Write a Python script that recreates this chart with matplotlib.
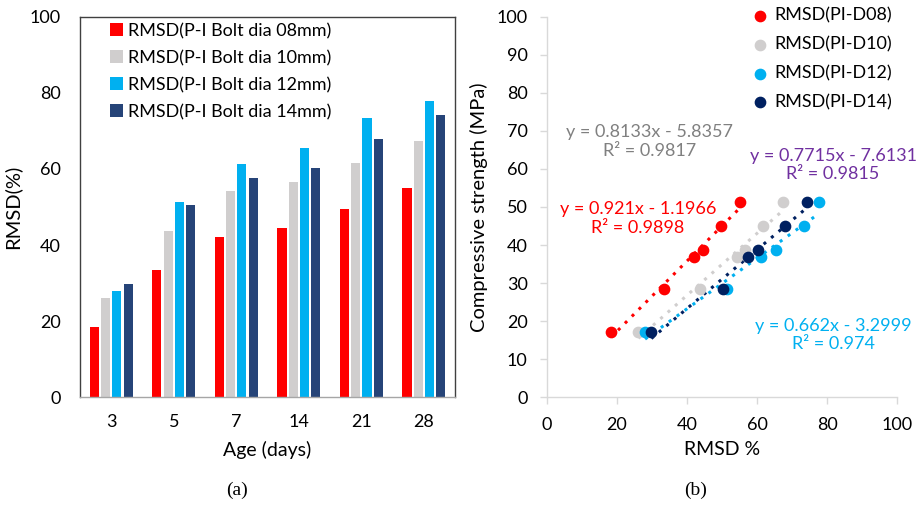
import numpy as np
import matplotlib
matplotlib.use('Agg')
import matplotlib.pyplot as plt

plt.rcParams['font.family'] = ['Lato', 'DejaVu Sans']

# data
ages = ['3', '5', '7', '14', '21', '28']
strength = [17.0, 28.5, 36.8, 38.8, 45.0, 51.2]
rmsd_d08 = [18.3, 33.3, 42.0, 44.5, 49.6, 55.0]
rmsd_d10 = [26.1, 43.7, 54.2, 56.6, 61.6, 67.3]
rmsd_d12 = [28.0, 51.3, 61.2, 65.5, 73.4, 77.8]
rmsd_d14 = [29.8, 50.4, 57.5, 60.3, 68.0, 74.2]

bar_labels = ['RMSD(P-I Bolt dia 08mm)', 'RMSD(P-I Bolt dia 10mm)',
              'RMSD(P-I Bolt dia 12mm)', 'RMSD(P-I Bolt dia 14mm)']
scatter_labels = ['RMSD(PI-D08)', 'RMSD(PI-D10)', 'RMSD(PI-D12)', 'RMSD(PI-D14)']
eq_texts = ['y = 0.921x - 1.1966\nR² = 0.9898', 'y = 0.8133x - 5.8357\nR² = 0.9817',
            'y = 0.662x - 3.2999\nR² = 0.974', 'y = 0.7715x - 7.6131\nR² = 0.9815']

series = [rmsd_d08, rmsd_d10, rmsd_d12, rmsd_d14]
bar_colors = ['#FF0000', '#D0CECE', '#00B0F0', '#264478']
dot_colors = ['#FF0000', '#D0CECE', '#00B0F0', '#002060']
eq_colors = ['#FF0000', '#808080', '#00B0F0', '#7030A0']
eq_pos = [(26, 47), (29.4, 67.3), (81.7, 16.3), (81.7, 61)]

fig = plt.figure(figsize=(9.21, 5.13), dpi=100)

# ---- (a) bar chart ----
ax1 = fig.add_axes([0.0869, 0.226, 0.4073, 0.741])
x = np.arange(len(ages))
w = 0.145
step = 0.18
for i, vals in enumerate(series):
    ax1.bar(x + (i - 1.5) * step, vals, width=w, color=bar_colors[i], label=bar_labels[i])
ax1.set_xlim(-0.5, len(ages) - 0.5)
ax1.set_ylim(0, 100)
ax1.set_yticks(range(0, 101, 20))
ax1.set_xticks(x)
ax1.set_xticklabels(ages)
ax1.tick_params(length=0, labelsize=13)
ax1.tick_params(axis='y', pad=14)
ax1.tick_params(axis='x', pad=12)
for s in ax1.spines.values():
    s.set_color('#404040')
    s.set_linewidth(1)
ax1.spines['bottom'].set_color('#A6A6A6')
ax1.set_xlabel('Age (days)', fontsize=14, labelpad=8)
ax1.set_ylabel('RMSD(%)', fontsize=14.5, labelpad=6)
ax1.legend(loc='upper left', bbox_to_anchor=(0.08, 0.984), frameon=False, fontsize=13,
           borderaxespad=0, borderpad=0,
           handlelength=0.7, handleheight=0.7, handletextpad=0.3, labelspacing=0.6)

# ---- (b) scatter with trendlines ----
ax2 = fig.add_axes([0.594, 0.226, 0.380, 0.741])
for i, vals in enumerate(series):
    ax2.scatter(vals, strength, s=55, color=dot_colors[i], label=scatter_labels[i], zorder=3)
    # linear trendline over the data range
    k, b = np.polyfit(vals, strength, 1)
    xs = np.array([min(vals), max(vals)])
    ax2.plot(xs, k * xs + b, ls=(0, (1, 2.2)), lw=2.2, color=dot_colors[i], zorder=2)
    ax2.text(eq_pos[i][0], eq_pos[i][1], eq_texts[i], color=eq_colors[i], fontsize=13,
             ha='center', va='center', linespacing=1.2)
ax2.set_xlim(0, 100)
ax2.set_ylim(0, 100)
ax2.set_xticks(range(0, 101, 20))
ax2.set_yticks(range(0, 101, 10))
ax2.spines['top'].set_visible(False)
ax2.spines['right'].set_visible(False)
for s in ['left', 'bottom']:
    ax2.spines[s].set_color('#D9D9D9')
    ax2.spines[s].set_linewidth(1)
ax2.tick_params(labelsize=13, color='#D9D9D9', length=5, width=1, pad=9)
ax2.set_xlabel('RMSD %', fontsize=14, labelpad=6)
ax2.set_ylabel('Compressive strength (MPa)', fontsize=14.5, labelpad=6)
ax2.legend(loc='upper left', bbox_to_anchor=(0.583, 1.024), frameon=False, fontsize=13,
           borderaxespad=0, borderpad=0, handlelength=1, handletextpad=0.3,
           labelspacing=0.7)

fig.text(0.257, 0.035, '(a)', fontsize=14, family='Liberation Serif', ha='center')
fig.text(0.755, 0.035, '(b)', fontsize=14, family='Liberation Serif', ha='center')

plt.savefig('out.png', dpi=100)
